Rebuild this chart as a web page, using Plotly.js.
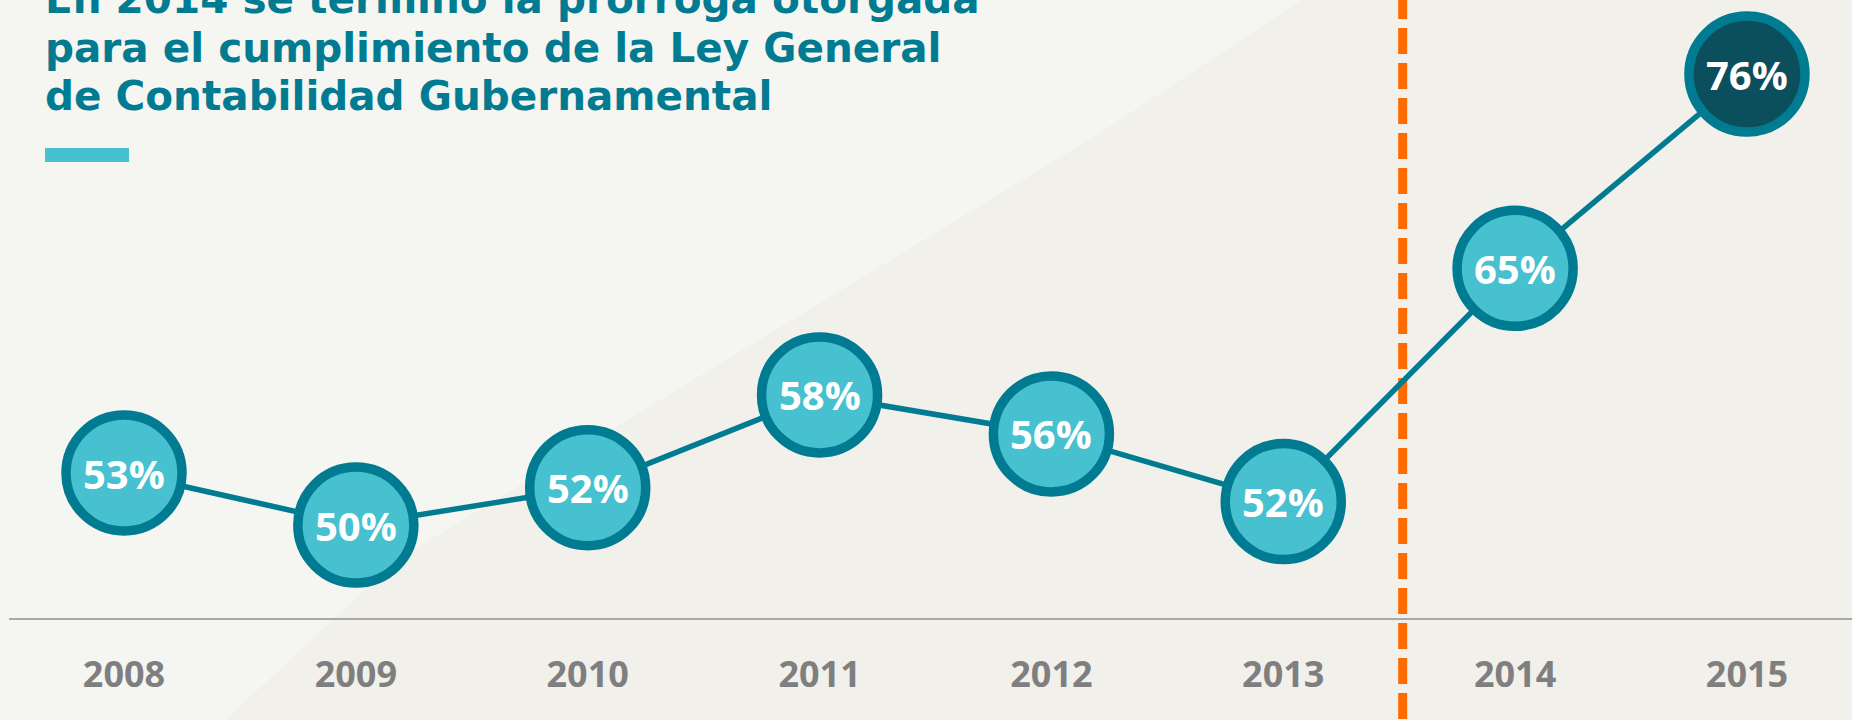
<!DOCTYPE html>
<html>
<head>
<meta charset="utf-8">
<script src="https://cdn.plot.ly/plotly-3.0.1.min.js"></script>
<style>
  html, body { margin: 0; padding: 0; background: #f1f0eb; }
  #chart { width: 1852px; height: 720px; }
</style>
</head>
<body>
<div id="chart"></div>
<script>
// ---- data ----
const years = ["2008", "2009", "2010", "2011", "2012", "2013", "2014", "2015"];
const compliance = [53.0, 50.0, 52.15, 57.5, 55.25, 51.35, 64.8, 76.0];
const valueLabels = ["53%", "50%", "52%", "58%", "56%", "52%", "65%", "76%"];
const titleLines = [
  "En 2014 se terminó la prórroga otorgada",
  "para el cumplimiento de la Ley General",
  "de Contabilidad Gubernamental"
];
const deadlineBetween = ["2013", "2014"];

// ---- styles ----
const teal = "#007b91";
const lightTeal = "#47c0cf";
const darkTeal = "#0b4f5c";
const markerFill = years.map((y, i) => i === years.length - 1 ? darkTeal : lightTeal);

const trace = {
  type: "scatter",
  mode: "lines+markers",
  x: years,
  y: compliance,
  line: { color: teal, width: 5.5 },
  marker: { size: 116, color: markerFill, line: { color: teal, width: 9.5 } },
  cliponaxis: true,
  hoverinfo: "skip"
};

const deadlineX = (years.indexOf(deadlineBetween[0]) + years.indexOf(deadlineBetween[1])) / 2 + 0.015;

const titleFont = { family: "DejaVu Sans", size: 40.5, color: teal, weight: "bold" };
const titleShifts = [1, -48, -96];
const titleAnnotations = titleLines.map((t, i) => ({
  text: t, xref: "paper", yref: "paper", x: 0, y: 1,
  xanchor: "left", yanchor: "middle", xshift: 34, yshift: titleShifts[i],
  showarrow: false, font: titleFont
}));

const valueAnnotations = years.map((yr, i) => ({
  text: valueLabels[i], xref: "x", yref: "y", x: i, y: compliance[i],
  xanchor: "center", yanchor: "middle", yshift: 0,
  showarrow: false,
  font: { family: "Open Sans", size: 40, color: "#ffffff", weight: "bold" }
}));

const layout = {
  width: 1852, height: 720,
  margin: { l: 9, r: 0, t: 0, b: 102, pad: 0 },
  paper_bgcolor: "#f1f0eb",
  plot_bgcolor: "rgba(0,0,0,0)",
  showlegend: false,
  xaxis: {
    type: "category",
    range: [-0.496, 7.453],
    showgrid: false, zeroline: false,
    showline: true, linecolor: "#a8a8a8", linewidth: 2,
    ticks: "", ticklabelstandoff: 24,
    tickfont: { family: "Open Sans", size: 36, color: "#7f7f7f", weight: "bold" },
    fixedrange: true
  },
  yaxis: {
    range: [44.64, 80.27],
    visible: false, showgrid: false, zeroline: false, fixedrange: true
  },
  shapes: [
    {
      type: "path", xref: "paper", yref: "paper", layer: "below",
      path: "M -0.006,1.01 L 0.7065,1.01 L 0.592,0.7848 L 0.2105,0.0939 L 0.1156,-0.17 L -0.006,-0.17 Z",
      fillcolor: "#f5f5f1", line: { width: 0 }
    },
    {
      type: "rect", xref: "paper", yref: "paper", layer: "above",
      x0: 0.01953, x1: 0.06511, y0: 0.7379, y1: 0.7605,
      fillcolor: lightTeal, line: { width: 0 }
    },
    {
      type: "line", xref: "x", yref: "paper", layer: "below",
      x0: deadlineX, x1: deadlineX, y0: 1.0112, y1: -0.17,
      line: { color: "#ff6a00", width: 9, dash: "26px,9px" }
    }
  ],
  annotations: titleAnnotations.concat(valueAnnotations)
};

Plotly.newPlot("chart", [trace], layout, { displayModeBar: false, staticPlot: true });
</script>
</body>
</html>
